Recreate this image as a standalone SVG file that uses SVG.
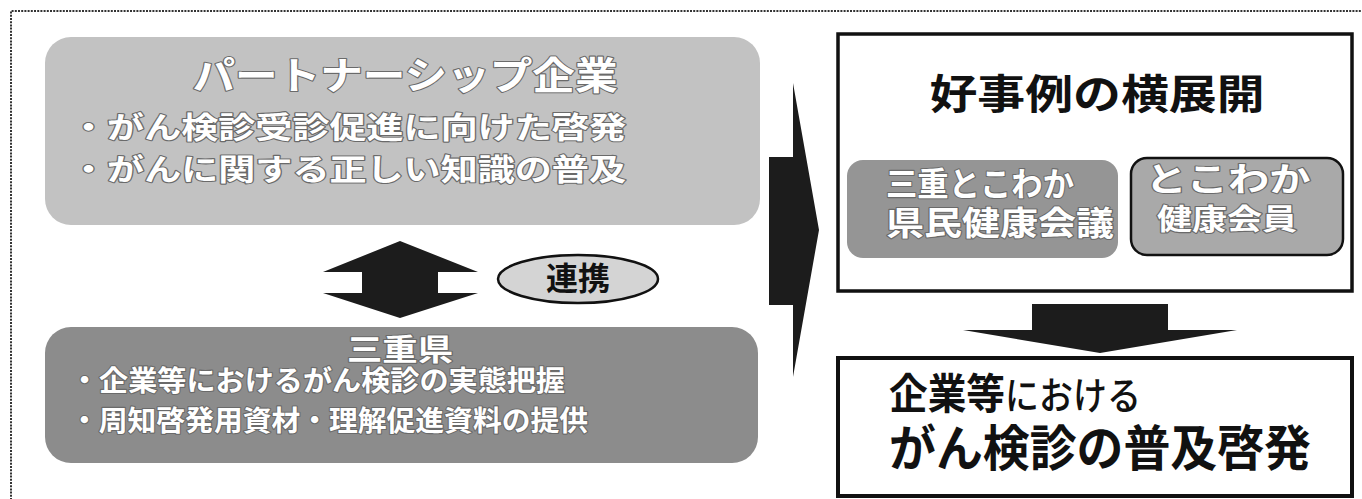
<svg xmlns="http://www.w3.org/2000/svg" width="1362" height="499" viewBox="0 0 1362 499">
<style>
.jp{font-family:"Noto Sans CJK JP","Noto Sans CJK SC",sans-serif;font-weight:700}
.wt{fill:#fff;stroke:#6a6a6a;stroke-width:2.2;paint-order:stroke;stroke-linejoin:round}
.bk{fill:#111}
.arrow{fill:#1c1c1c}
</style>
<rect width="1362" height="499" fill="#fff"/>
<path d="M11,500 V11 H1362" fill="none" stroke="#333" stroke-width="2" stroke-dasharray="2 1.2"/>

<g id="partner">
<rect x="45" y="37" width="715" height="188" rx="26" fill="#c2c2c2"/>
<text class="jp wt" x="405" y="89" font-size="38" text-anchor="middle" textLength="425" lengthAdjust="spacingAndGlyphs">パートナーシップ企業</text>
<text class="jp wt" x="70" y="138" font-size="30" textLength="556" lengthAdjust="spacingAndGlyphs">・がん検診受診促進に向けた啓発</text>
<text class="jp wt" x="70" y="180" font-size="30" textLength="556" lengthAdjust="spacingAndGlyphs">・がんに関する正しい知識の普及</text>
</g>

<g id="mie">
<rect x="45" y="327" width="713" height="136" rx="26" fill="#8c8c8c"/>
<text class="jp wt" x="400" y="360" font-size="30" text-anchor="middle" textLength="106" lengthAdjust="spacingAndGlyphs">三重県</text>
<text class="jp wt" x="70" y="391" font-size="28" textLength="495" lengthAdjust="spacingAndGlyphs">・企業等におけるがん検診の実態把握</text>
<text class="jp wt" x="70" y="431" font-size="28" textLength="518" lengthAdjust="spacingAndGlyphs">・周知啓発用資材・理解促進資料の提供</text>
</g>

<g id="renkei">
<ellipse cx="578" cy="279" rx="80" ry="24" fill="#d4d4d4" stroke="#111" stroke-width="2.5"/>
<text class="jp bk" x="578" y="290" font-size="32" text-anchor="middle">連携</text>
</g>

<g id="yokotenkai">
<rect x="838" y="34" width="514" height="257" fill="#fff" stroke="#111" stroke-width="3.5"/>
<text class="jp bk" x="1097" y="109" font-size="41" text-anchor="middle" textLength="335" lengthAdjust="spacingAndGlyphs">好事例の横展開</text>
</g>

<g id="kaigi">
<rect x="847" y="160" width="271" height="98" rx="16" fill="#959595"/>
<text class="jp wt" x="886" y="196" font-size="33" textLength="188" lengthAdjust="spacingAndGlyphs">三重とこわか</text>
<text class="jp wt" x="886" y="235" font-size="33" textLength="228" lengthAdjust="spacingAndGlyphs">県民健康会議</text>
</g>

<g id="kaiin">
<rect x="1131" y="158" width="212" height="97" rx="16" fill="#a9a9a9" stroke="#111" stroke-width="2.5"/>
<text class="jp wt" x="1228" y="191" font-size="33" text-anchor="middle" textLength="165" lengthAdjust="spacingAndGlyphs">とこわか</text>
<text class="jp wt" x="1227" y="230" font-size="29" text-anchor="middle" textLength="140" lengthAdjust="spacingAndGlyphs">健康会員</text>
</g>

<g id="fukyu">
<rect x="838" y="358" width="514" height="138" fill="#fff" stroke="#111" stroke-width="4"/>
<text class="jp bk" x="889" y="409" font-size="42"><tspan textLength="116" lengthAdjust="spacingAndGlyphs">企業等</tspan><tspan font-weight="500" font-size="38" textLength="136" lengthAdjust="spacingAndGlyphs">における</tspan></text>
<text class="jp bk" x="889" y="466" font-size="49" textLength="422" lengthAdjust="spacingAndGlyphs">がん検診の普及啓発</text>
</g>

<g id="connectors">
<polygon class="arrow" points="400,241 478,272 438,272 438,293 478,293 400,318 323,293 362,293 362,272 323,272"/>
<polygon class="arrow" points="769,157 793,157 793,83 819,230 793,377 793,305 769,305"/>
<polygon class="arrow" points="1032,304 1168,304 1168,330 1237,330 1100,353 963,330 1032,330"/>
</g>
</svg>
